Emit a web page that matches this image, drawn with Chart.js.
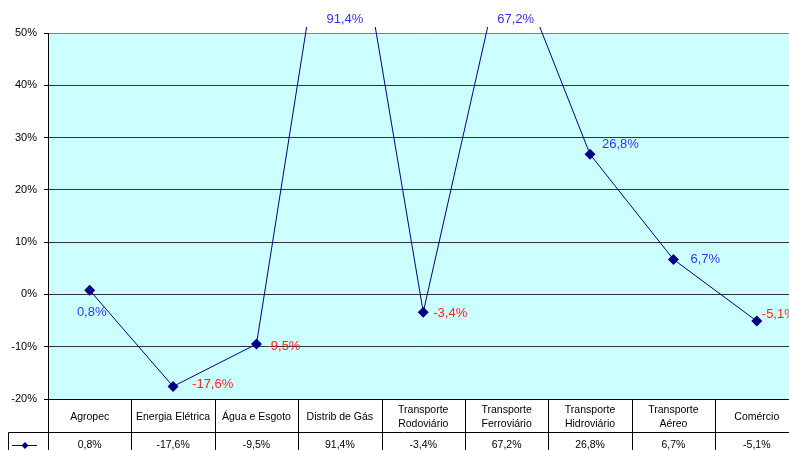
<!DOCTYPE html>
<html>
<head>
<meta charset="utf-8">
<script src="https://cdn.jsdelivr.net/npm/chart.js@4/dist/chart.umd.min.js"></script>
<style>
  html, body { margin: 0; padding: 0; background: #fff; overflow: hidden; }
  #wrap { width: 804px; height: 450px; }
</style>
</head>
<body>
<div id="wrap"><canvas id="chart1" width="804" height="450"></canvas></div>
<script>
// categories and values (percent)
var categories = ['Agropec', 'Energia Elétrica', 'Água e Esgoto', 'Distrib de Gás',
    ['Transporte', 'Rodoviário'], ['Transporte', 'Ferroviário'], ['Transporte', 'Hidroviário'],
    ['Transporte', 'Aéreo'], 'Comércio'];
var growth = [0.8, -17.6, -9.5, 91.4, -3.4, 67.2, 26.8, 6.7, -5.1];
var yTicks = [-20, -10, 0, 10, 20, 30, 40, 50];

var FONT = "'Liberation Sans', Arial, sans-serif";
var NAVY = '#000080';

function fmt(v) {
    return v.toFixed(1).replace('.', ',') + '%';
}

// label offsets relative to each point [dx, dy, align]
var labelPos = [
    [2, 22, 'center'], [19, -2, 'left'], [10, 2, 'left'], [5, 0, 'center'],
    [10, 1, 'left'], [9, 0, 'center'], [12, -10, 'left'], [17, 0, 'left'], [5, -7, 'left']
];

var plotBg = {
    id: 'plotBg',
    beforeDraw: function (chart) {
        var a = chart.chartArea, c = chart.ctx;
        c.save();
        c.fillStyle = '#CCFFFF';
        c.fillRect(a.left, a.top, a.right - a.left, a.bottom - a.top);
        c.restore();
    }
};

var valueLabels = {
    id: 'valueLabels',
    afterDatasetsDraw: function (chart) {
        var c = chart.ctx, xs = chart.scales.x, ys = chart.scales.y, a = chart.chartArea;
        c.save();
        c.font = '13px ' + FONT;
        c.textBaseline = 'middle';
        growth.forEach(function (v, i) {
            var px = xs.getPixelForValue(i);
            var py = ys.getPixelForValue(v);
            if (v > ys.max) py = a.top - 14;
            var p = labelPos[i];
            c.fillStyle = v >= 0 ? '#3333FF' : '#FF2222';
            c.textAlign = p[2];
            c.fillText(fmt(v), px + p[0], py + p[1]);
        });
        c.restore();
    }
};

var dataTable = {
    id: 'dataTable',
    afterDraw: function (chart) {
        var c = chart.ctx, xs = chart.scales.x, a = chart.chartArea;
        var w = (a.right - a.left) / categories.length;
        var top = Math.round(a.bottom), mid = top + 33, bottom = chart.height + 5;
        c.save();
        c.strokeStyle = '#000';
        c.lineWidth = 1;
        c.beginPath();
        for (var i = 0; i <= categories.length; i++) {
            var x = Math.round(a.left + i * w) + 0.5;
            c.moveTo(x, top);
            c.lineTo(x, bottom);
        }
        c.moveTo(8.5, mid + 0.5);
        c.lineTo(a.right, mid + 0.5);
        c.moveTo(8.5, mid + 0.5);
        c.lineTo(8.5, bottom);
        c.stroke();

        c.fillStyle = '#000';
        c.font = '10.5px ' + FONT;
        c.textAlign = 'center';
        c.textBaseline = 'middle';
        categories.forEach(function (cat, i) {
            var cx = xs.getPixelForValue(i);
            if (Array.isArray(cat)) {
                c.fillText(cat[0], cx, top + 11);
                c.fillText(cat[1], cx, top + 25);
            } else {
                c.fillText(cat, cx, top + 18);
            }
            c.fillText(fmt(growth[i]), cx, mid + 13);
        });

        // legend key
        c.strokeStyle = NAVY;
        c.beginPath();
        c.moveTo(12, mid + 13.5);
        c.lineTo(37, mid + 13.5);
        c.stroke();
        c.fillStyle = NAVY;
        c.beginPath();
        c.moveTo(25, mid + 10);
        c.lineTo(28.5, mid + 13.5);
        c.lineTo(25, mid + 17);
        c.lineTo(21.5, mid + 13.5);
        c.closePath();
        c.fill();
        c.restore();
    }
};

var ctx = document.getElementById('chart1').getContext('2d');
var chart = new Chart(ctx, {
    type: 'line',
    data: {
        labels: categories,
        datasets: [{
            data: growth,
            borderColor: NAVY,
            borderWidth: 1,
            backgroundColor: NAVY,
            pointStyle: 'rectRot',
            pointRadius: 5.5,
            pointBorderWidth: 0,
            tension: 0,
            clip: { left: 0, top: 6, right: 0, bottom: 0 }
        }]
    },
    options: {
        responsive: false,
        animation: false,
        events: [],
        layout: { padding: { top: 33, right: 0, left: 0, bottom: 0 } },
        plugins: {
            legend: { display: false },
            tooltip: { enabled: false }
        },
        scales: {
            x: {
                type: 'category',
                offset: true,
                grid: { display: true, color: 'transparent', drawTicks: false },
                border: { display: true, color: '#000', width: 1 },
                ticks: { display: false },
                afterFit: function (s) { s.height = 51; }
            },
            y: {
                min: yTicks[0],
                max: yTicks[yTicks.length - 1],
                afterBuildTicks: function (s) {
                    s.ticks = yTicks.map(function (v) { return { value: v }; });
                },
                grid: {
                    color: function (c) { return c.tick && c.tick.value === 50 ? '#808080' : '#333'; },
                    tickColor: '#000',
                    tickLength: 4,
                    lineWidth: 1
                },
                border: { display: true, color: '#000', width: 1 },
                ticks: {
                    padding: 7,
                    color: '#000',
                    font: { family: FONT, size: 11 },
                    callback: function (v) { return v + '%'; }
                },
                afterFit: function (s) { s.width = 48; }
            }
        }
    },
    plugins: [plotBg, valueLabels, dataTable]
});
</script>
</body>
</html>
